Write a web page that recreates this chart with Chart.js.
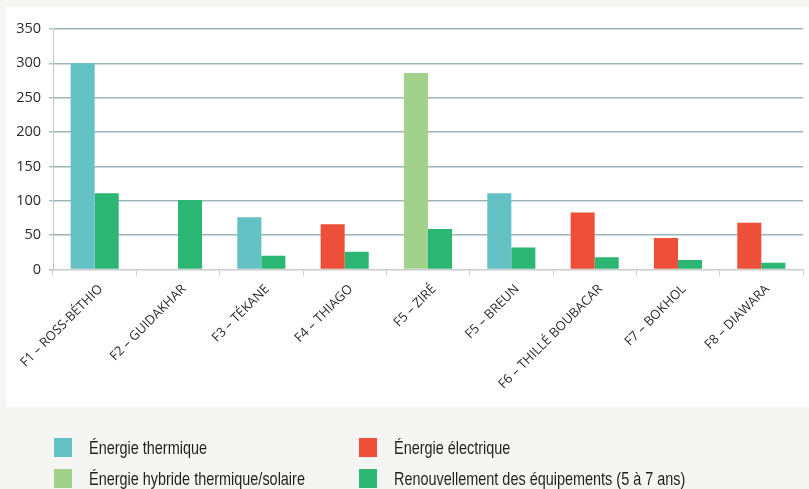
<!DOCTYPE html>
<html lang="fr">
<head>
  <meta charset="UTF-8">
  <title>Besoins en énergie par forage</title>
  <script src="https://cdn.jsdelivr.net/npm/chart.js"></script>
  <style>
    html, body { margin: 0; padding: 0; }
    body { width: 809px; height: 489px; background: #f5f5f3; position: relative; overflow: hidden; font-family: "Open Sans", sans-serif; }
    #panel { position: absolute; left: 6px; top: 7px; width: 803px; height: 400px; background: #fff; }
    #legend { position: absolute; left: 0; top: 0; width: 809px; height: 489px; pointer-events: none; }
    .item { position: absolute; display: flex; align-items: center; font-family: "Liberation Sans", sans-serif; font-size: 19px; color: #231f20; white-space: nowrap; height: 19px; }
    .sw { width: 18px; height: 19px; margin-right: 17px; flex: none; }
    .txt { display: inline-block; transform: scaleX(0.76); transform-origin: 0 50%; }
  </style>
</head>
<body>
<div id="panel"><canvas id="chart"></canvas></div>
<div id="legend"></div>
<script>
  // categories (forages)
  const categories = ['F1 – ROSS-BÉTHIO', 'F2 – GUIDAKHAR', 'F3 – TÉKANE', 'F4 – THIAGO', 'F5 – ZIRÉ',
    'F5 – BREUN', 'F6 – THILLÉ BOUBACAR', 'F7 – BOKHOL', 'F8 – DIAWARA'];
  // energy source: 0 thermique, 1 hybride, 2 électrique, -1 none
  const energyType = [0, -1, 0, 2, 1, 0, 2, 2, 2];
  const energyValues = [300, null, 76, 66, 286, 111, 83, 46, 68];
  const renewValues = [111, 101, 20, 26, 59, 32, 18, 14, 10];
  const yTicks = [0, 50, 100, 150, 200, 250, 300, 350];

  const legendLabels = ['Énergie thermique', 'Énergie hybride thermique/solaire', 'Énergie électrique',
    'Renouvellement des équipements (5 à 7 ans)'];
  const typeColors = ['#64c2c4', '#a0d28b', '#ee4f38'];
  const renewColor = '#2bb673';

  // legend below the white panel, two columns
  const legendPos = [[54, 438], [54, 469], [359, 438], [359, 469]];
  const legendColors = [typeColors[0], typeColors[1], typeColors[2], renewColor];
  const legend = document.getElementById('legend');
  legendLabels.forEach((txt, i) => {
    const d = document.createElement('div');
    d.className = 'item';
    d.style.left = legendPos[i][0] + 'px';
    d.style.top = legendPos[i][1] + 'px';
    d.innerHTML = '<span class="sw" style="background:' + legendColors[i] + '"></span><span class="txt">' + txt + '</span>';
    legend.appendChild(d);
  });

  const canvas = document.getElementById('chart');
  canvas.width = 803;
  canvas.height = 400;

  new Chart(canvas, {
    type: 'bar',
    data: {
      labels: categories,
      datasets: [{
        label: 'Énergie',
        data: energyValues,
        backgroundColor: energyType.map(t => t < 0 ? 'transparent' : typeColors[t]),
        categoryPercentage: 0.577,
        barPercentage: 1
      }, {
        label: legendLabels[3],
        data: renewValues,
        backgroundColor: renewColor,
        categoryPercentage: 0.577,
        barPercentage: 1
      }]
    },
    options: {
      responsive: false,
      animation: false,
      layout: { padding: { top: 22, right: 6, left: 0, bottom: 0 } },
      plugins: { legend: { display: false }, tooltip: { enabled: false } },
      scales: {
        x: {
          grid: { offset: true, drawOnChartArea: false, drawTicks: true, tickLength: 6, color: '#c9c9c9' },
          border: { color: '#cccccc', width: 1.5 },
          ticks: {
            minRotation: 45, maxRotation: 45, color: '#2a2a2a', padding: 6, labelOffset: 6,
            font: { family: 'Open Sans', size: 13 }
          },
          afterFit: s => { s.height = 137.5; }
        },
        y: {
          min: 0, max: 350,
          afterBuildTicks: s => { s.ticks = yTicks.map(v => ({ value: v })); },
          grid: {
            color: c => c.tick.value === 0 ? 'transparent' : '#9bb6bd',
            lineWidth: 1.5, tickLength: 4, tickColor: '#bbbbbb'
          },
          border: { color: '#c6c6c6', width: 1 },
          ticks: { color: '#2a2a2a', padding: 8, font: { family: 'Open Sans', size: 14.5 } },
          afterFit: s => { s.width = 47; }
        }
      }
    }
  });
</script>
</body>
</html>
